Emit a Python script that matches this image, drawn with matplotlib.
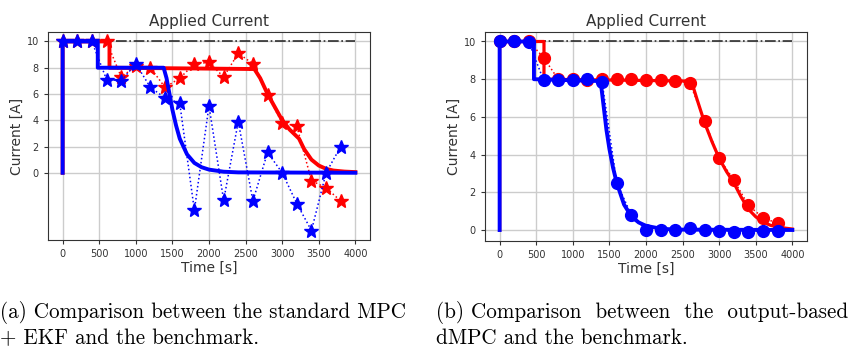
import matplotlib.pyplot as plt
import numpy as np

# sample times of the estimator / controller outputs
t_samp = [0, 200, 400, 600, 800, 1000, 1200, 1400, 1600, 1800, 2000,
          2200, 2400, 2600, 2800, 3000, 3200, 3400, 3600, 3800]

# (a) standard MPC + EKF
a_blue_stars = [10, 10, 10, 7.1, 7.0, 8.3, 6.5, 5.7, 5.3, -2.85, 5.1,
                -2.1, 3.9, -2.15, 1.55, 0.0, -2.35, -4.4, 0.0, 2.0]
a_red_stars = [10, 10, 10, 10, 7.3, 8.1, 8.0, 6.5, 7.2, 8.3, 8.4,
               7.3, 9.1, 8.3, 5.9, 3.8, 3.55, -0.6, -1.15, -2.15]
a_red_t = [0, 0, 640, 640, 2620, 2700, 2800, 2900, 3000, 3100, 3230,
           3300, 3400, 3500, 3600, 3700, 3850, 4000]
a_red_y = [0, 10, 10, 8, 7.9, 7.2, 6.0, 5.0, 4.0, 3.3, 2.6,
           1.8, 1.0, 0.55, 0.3, 0.17, 0.09, 0.05]
a_blue_t = [0, 0, 480, 480, 1380, 1420, 1460, 1500, 1550, 1600, 1700,
            1800, 1900, 2000, 2200, 2400, 4000]
a_blue_y = [0, 10, 10, 8, 8, 7.2, 6.0, 4.8, 3.6, 2.6, 1.4,
            0.75, 0.42, 0.24, 0.08, 0.03, 0.0]

# (b) output-based dMPC
b_blue_dots = [10, 10, 9.95, 7.95, 7.95, 7.95, 8.0, 7.85, 2.5, 0.8, 0.02,
               0.0, 0.0, 0.12, -0.02, -0.05, -0.08, -0.08, -0.05, -0.05]
b_red_dots = [10, 10, 10, 9.15, 8.0, 8.0, 7.95, 8.0, 8.0, 8.0, 7.95,
              7.95, 7.9, 7.8, 5.8, 3.8, 2.65, 1.3, 0.65, 0.35]
b_red_t = [0, 0, 606, 606, 2620, 2700, 2800, 2900, 3000, 3100, 3200,
           3300, 3400, 3500, 3600, 3700, 3800, 4000]
b_red_y = [0, 10, 10, 8, 7.9, 6.9, 5.7, 4.7, 3.8, 3.1, 2.5,
           1.75, 1.1, 0.7, 0.42, 0.25, 0.15, 0.05]
b_blue_t = [0, 0, 469, 469, 1380, 1420, 1460, 1500, 1550, 1600, 1700,
            1800, 1900, 2000, 2200, 2400, 4000]
b_blue_y = [0, 10, 10, 8, 7.9, 6.6, 5.3, 4.3, 3.3, 2.5, 1.35,
            0.72, 0.4, 0.22, 0.07, 0.02, 0.0]

ref_t = [0, 4000]
ref_y = [10, 10]

dark = '#333333'
fig = plt.figure(figsize=(8.5, 3.47), dpi=100)
ax1 = fig.add_axes([48 / 850, 107 / 347, 322 / 850, 208 / 347])
ax2 = fig.add_axes([485 / 850, 106 / 347, 322 / 850, 209 / 347])


def style(ax):
    ax.set_title('Applied Current', fontsize=11, color=dark, pad=4)
    ax.set_xlabel('Time [s]', fontsize=10, color=dark, labelpad=1)
    ax.set_ylabel('Current [A]', fontsize=10, color=dark, labelpad=2)
    ax.grid(True, color='#cccccc', linewidth=1)
    ax.set_axisbelow(True)
    ax.set_xticks(range(0, 4001, 500))
    ax.set_yticks(range(0, 11, 2))
    ax.tick_params(labelsize=7, colors=dark, length=3)
    for s in ax.spines.values():
        s.set_color(dark)
    ax.set_xlim(-200, 4200)


ax1.plot(ref_t, ref_y, color='k', linestyle='-.', linewidth=1.2, alpha=0.8)
ax1.plot(a_red_t, a_red_y, color='red', linewidth=2.8)
ax1.plot(t_samp, a_red_stars, color='red', linestyle=':', linewidth=1.1,
         marker='*', markersize=10)
ax1.plot(a_blue_t, a_blue_y, color='blue', linewidth=2.8)
ax1.plot(t_samp, a_blue_stars, color='blue', linestyle=':', linewidth=1.1,
         marker='*', markersize=10)
style(ax1)

ax2.plot(ref_t, ref_y, color='k', linestyle='-.', linewidth=1.2, alpha=0.8)
ax2.plot(b_red_t, b_red_y, color='red', linewidth=2.3)
ax2.plot(t_samp, b_red_dots, color='red', linestyle=':', linewidth=1.1,
         marker='o', markersize=8.5)
ax2.plot(b_blue_t, b_blue_y, color='blue', linewidth=2.8)
ax2.plot(t_samp, b_blue_dots, color='blue', linestyle=':', linewidth=1.1,
         marker='o', markersize=8.5)
style(ax2)

cap = dict(fontsize=15.2, family='cmr10', va='center')
fig.text(0.0, 1 - 312 / 347, '(a) Comparison between the standard MPC', **cap)
fig.text(0.0, 1 - 338 / 347, '+ EKF and the benchmark.', **cap)
fig.text(436 / 850, 1 - 312 / 347,
         '(b) Comparison  between  the  output-based', **cap)
fig.text(436 / 850, 1 - 338 / 347, 'dMPC and the benchmark.', **cap)

fig.savefig('out.png', dpi=100)
